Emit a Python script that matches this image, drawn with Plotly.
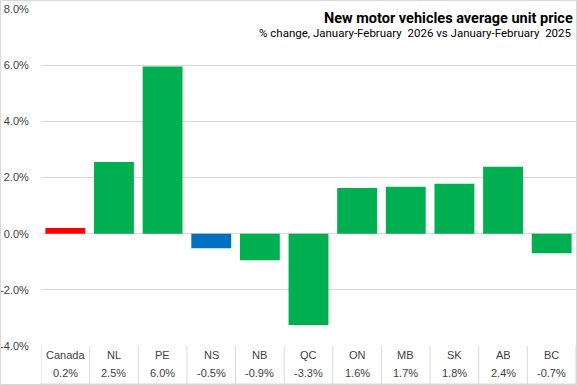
import plotly.graph_objects as go

categories = ["Canada", "NL", "PE", "NS", "NB", "QC", "ON", "MB", "SK", "AB", "BC"]
values = [0.2, 2.5, 6.0, -0.5, -0.9, -3.3, 1.6, 1.7, 1.8, 2.4, -0.7]
bar_values = [0.2, 2.55, 5.95, -0.52, -0.95, -3.25, 1.63, 1.67, 1.78, 2.38, -0.7]
colors = ["#FF0000", "#00B050", "#00B050", "#0070C0", "#00B050", "#00B050",
          "#00B050", "#00B050", "#00B050", "#00B050", "#00B050"]
y_ticks = [-4, -2, 0, 2, 4, 6, 8]
y_tick_labels = ["-4.0%", "-2.0%", "0.0%", "2.0%", "4.0%", "6.0%", "8.0%"]
title = "New motor vehicles average unit price"
subtitle = "% change, January-February  2026 vs January-February  2025"

W, H = 577, 385
ML, MR, MT, MB = 41, 1, 9, 39
PW, PH = W - ML - MR, H - MT - MB

fig = go.Figure()
fig.add_trace(go.Bar(
    x=list(range(len(categories))), y=bar_values,
    marker=dict(color=colors, line=dict(width=0)),
    width=0.82, hoverinfo="skip",
))

grid = "#D9D9D9"
shapes = []
# table vertical separators
for i in range(len(categories) + 1):
    shapes.append(dict(type="line", xref="x", yref="paper",
                       x0=i - 0.5, x1=i - 0.5, y0=0, y1=-38 / PH,
                       line=dict(color=grid, width=1)))
# table bottom line
shapes.append(dict(type="line", xref="paper", yref="paper",
                   x0=-1 / PW, x1=1, y0=-38 / PH, y1=-38 / PH,
                   line=dict(color=grid, width=1)))
# outer border
shapes.append(dict(type="rect", xref="paper", yref="paper",
                   x0=(0.5 - ML) / PW, x1=(W - 0.5 - ML) / PW,
                   y0=-(MB - 0.5) / PH, y1=1 + (MT - 0.5) / PH,
                   line=dict(color=grid, width=1)))

annotations = [
    dict(text="<b>" + title + "</b>", xref="paper", yref="paper",
         x=(W - 2 - ML) / PW, y=1 - 9 / PH, xanchor="right", yanchor="middle",
         showarrow=False, font=dict(family="Roboto", size=14.5, color="#000000")),
    dict(text=subtitle, xref="paper", yref="paper",
         x=(W - 3 - ML) / PW, y=1 - 24 / PH, xanchor="right", yanchor="middle",
         showarrow=False, font=dict(family="Roboto", size=11.5, color="#000000")),
]
for i, (c, v) in enumerate(zip(categories, values)):
    annotations.append(dict(text=c, xref="x", yref="paper", x=i, y=-9 / PH,
                            xanchor="center", yanchor="middle", showarrow=False,
                            font=dict(family="Liberation Sans", size=11, color="#404040")))
    annotations.append(dict(text=f"{v:.1f}%", xref="x", yref="paper", x=i, y=-27 / PH,
                            xanchor="center", yanchor="middle", showarrow=False,
                            font=dict(family="Liberation Sans", size=11, color="#404040")))

fig.update_layout(
    width=W, height=H,
    margin=dict(l=ML, r=MR, t=MT, b=MB),
    paper_bgcolor="white", plot_bgcolor="white",
    showlegend=False, bargap=0.18,
    xaxis=dict(range=[-0.5, len(categories) - 0.5], showticklabels=False,
               showgrid=False, zeroline=False, showline=False, fixedrange=True),
    yaxis=dict(range=[-4, 8], tickvals=y_ticks, ticktext=y_tick_labels,
               showgrid=True, gridcolor=grid, gridwidth=1, zeroline=False,
               showline=False, ticks="outside", ticklen=9, tickcolor="rgba(0,0,0,0)",
               automargin=False, fixedrange=True,
               tickfont=dict(family="Liberation Sans", size=11, color="#404040")),
    shapes=shapes, annotations=annotations,
)

fig.write_html("out.html", config={"displayModeBar": False, "staticPlot": True},
               post_script="document.body.style.margin='0';document.body.style.overflow='hidden';")
